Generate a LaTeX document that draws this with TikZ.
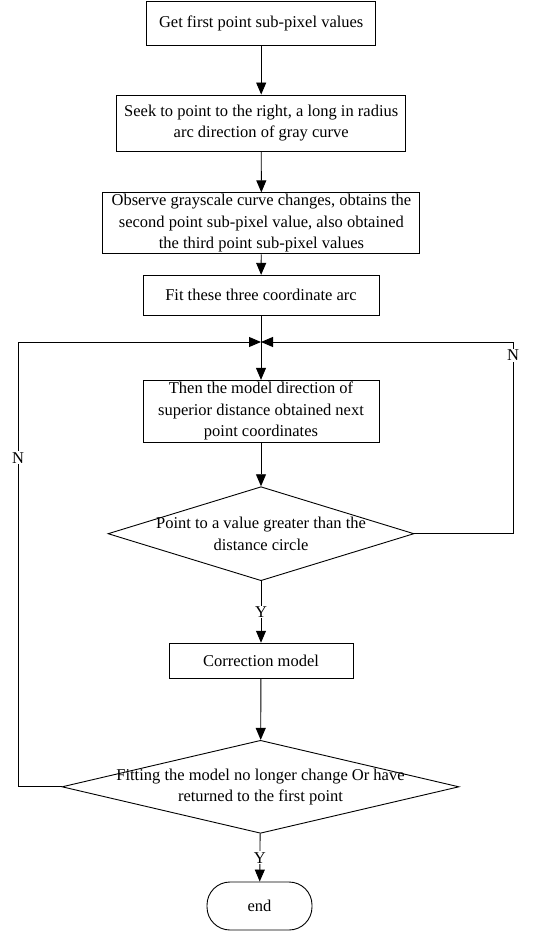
\documentclass[tikz,border=0pt]{standalone}
\usepackage{fontspec}
\setmainfont{Liberation Serif}
\usetikzlibrary{arrows.meta, positioning, shapes.geometric}

\begin{document}
\begin{tikzpicture}[x=1pt,y=-1pt,line width=0.9pt,font=\fontsize{16.5}{21.5}\selectfont]
    \tikzstyle{flow}=[-{Triangle[length=12pt,width=10pt]}]
    \tikzstyle{stepbox}=[rectangle,draw=black,inner sep=0pt,align=center]
    \tikzstyle{decision}=[diamond,draw=black,inner sep=0pt]
    \tikzstyle{terminal}=[rectangle,rounded corners=23pt,draw=black,minimum width=105pt,minimum height=48pt]
    \tikzstyle{answer}=[fill=white,inner sep=1pt]

    \useasboundingbox (0,0) rectangle (557,931);

    \node[stepbox,minimum width=229pt,minimum height=44pt] (B1) at (261.2,23) {Get first point sub-pixel values};
    \node[stepbox,minimum width=289pt,minimum height=56pt] (B2) at (261.2,123) {Seek to point to the right, a long in radius\\arc direction of gray curve};
    \node[stepbox,minimum width=317pt,minimum height=61pt] (B3) at (261.4,223.3) {Observe grayscale curve changes, obtains the\\second point sub-pixel value, also obtained\\the third point sub-pixel values};
    \node[stepbox,minimum width=236pt,minimum height=40pt] (B4) at (261,295.3) {Fit these three coordinate arc};
    \coordinate (J) at (261,342);
    \node[stepbox,minimum width=236pt,minimum height=62pt] (B5) at (261,411.3) {Then the model direction of\\superior distance obtained next\\point coordinates};

    \node[decision,minimum width=306pt,minimum height=94pt] (D1) at (261,533.7) {};
    \node[align=center] (D1-text) at (D1) {Point to a value greater than the\\distance circle};

    \node[stepbox,minimum width=184pt,minimum height=35pt] (B6) at (261,660.7) {Correction model};

    \node[decision,minimum width=397pt,minimum height=93pt] (D2) at (260.5,786.8) {};
    \node[align=center] (D2-text) at (D2) {Fitting the model no longer change Or have\\returned to the first point};

    \node[terminal] (E) at (259.5,906) {end};

    \coordinate (L) at (18,342);
    \coordinate (R) at (513,342);

    \draw[flow] (B1) -- (B2);
    \draw[flow] (B2) -- (B3);
    \draw[flow] (B3) -- (B4);
    \draw (B4) -- (J);
    \draw[flow] (J) -- (B5);
    \draw[flow] (B5) -- (D1);
    \draw[flow] (D1) -- node[answer] {Y} (B6);
    \draw[flow] (B6) -- (D2);
    \draw[flow] (D2) -- node[answer] {Y} (E);

    % loop back lines
    \draw[flow] (D1.east) -| node[answer,pos=0.965] {N} (R) -- (J);
    \draw[flow] (D2.west) -| node[answer,pos=0.87] {N} (L) -- (J);
\end{tikzpicture}
\end{document}
